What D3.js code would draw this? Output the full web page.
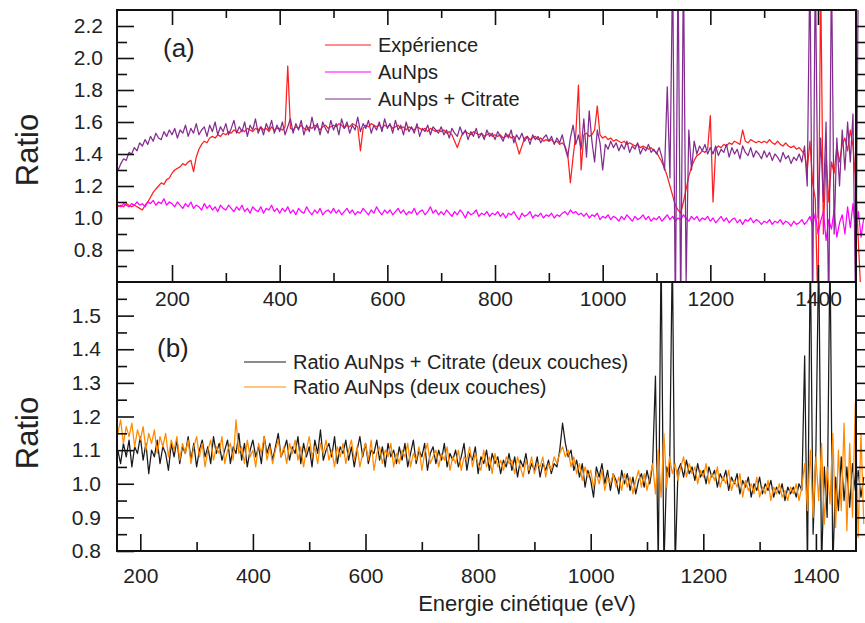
<!DOCTYPE html>
<html><head><meta charset="utf-8">
<script src="https://cdn.jsdelivr.net/npm/d3@7"></script>
<style>
body{margin:0;background:#fff}
svg text{font-family:"Liberation Sans",Arial,Helvetica,sans-serif;fill:#222}
</style>
</head><body>
<svg id="chart" width="865" height="623"></svg>
<script>
// ---------------- DATA ----------------
// Panel (a): energy grid (eV) for the three ratio curves
const energyTop = d3.range(100, 1486, 5);
const experience = [
1.07,1.08,1.07,1.09,1.08,1.07,1.08,1.07,1.06,1.05,1.08,1.10,1.13,1.16,1.18,1.20,1.22,1.21,1.24,1.25,
1.28,1.30,1.31,1.32,1.34,1.33,1.35,1.36,1.29,1.38,1.43,1.46,1.48,1.47,1.50,1.51,1.50,1.52,1.51,1.53,
1.52,1.54,1.53,1.55,1.54,1.53,1.55,1.54,1.56,1.55,1.54,1.56,1.55,1.57,1.55,1.56,1.54,1.57,1.55,1.56,
1.56,1.55,1.57,1.95,1.56,1.55,1.57,1.56,1.58,1.56,1.55,1.57,1.56,1.58,1.57,1.55,1.57,1.58,1.56,1.57,
1.58,1.57,1.59,1.58,1.56,1.58,1.57,1.59,1.58,1.57,1.42,1.56,1.58,1.57,1.59,1.58,1.57,1.58,1.56,1.58,
1.57,1.58,1.56,1.57,1.58,1.56,1.57,1.55,1.57,1.56,1.55,1.57,1.56,1.55,1.56,1.54,1.56,1.55,1.54,1.55,
1.54,1.55,1.53,1.54,1.52,1.48,1.44,1.49,1.53,1.54,1.53,1.52,1.54,1.53,1.52,1.53,1.51,1.52,1.53,1.51,
1.52,1.51,1.52,1.50,1.51,1.52,1.50,1.51,1.46,1.40,1.45,1.50,1.51,1.49,1.50,1.51,1.49,1.50,1.48,1.49,
1.48,1.49,1.47,1.48,1.46,1.47,1.45,1.40,1.22,1.38,1.52,1.83,1.30,1.52,1.53,1.51,1.52,1.55,1.70,1.52,
1.50,1.51,1.49,1.50,1.48,1.49,1.48,1.47,1.48,1.46,1.47,1.46,1.45,1.46,1.44,1.45,1.44,1.43,1.44,1.42,
1.41,1.38,1.35,1.31,1.26,1.20,1.14,1.08,1.05,1.03,1.10,1.18,1.26,1.32,1.36,1.39,1.40,1.42,1.41,1.43,
1.64,1.10,1.43,1.45,1.44,1.46,1.45,1.47,1.46,1.48,1.47,1.46,1.55,1.48,1.47,1.49,1.48,1.47,1.48,1.47,
1.48,1.47,1.49,1.47,1.46,1.48,1.46,1.45,1.47,1.45,1.44,1.45,1.43,1.44,1.42,1.40,1.30,1.48,1.22,1.12,
0.40,2.50,0.90,1.40,1.10,1.35,1.28,1.45,1.35,1.46,1.50,1.42,1.55,1.45,1.22,0.85,0.50,0.40
];
const auNps = [
1.08,1.07,1.09,1.08,1.07,1.09,1.08,1.10,1.08,1.09,1.07,1.10,1.09,1.11,1.08,1.10,1.09,1.12,1.08,1.10,
1.09,1.07,1.10,1.08,1.06,1.09,1.07,1.10,1.06,1.08,1.07,1.05,1.09,1.06,1.08,1.05,1.07,1.04,1.08,1.06,
1.05,1.08,1.06,1.04,1.07,1.05,1.08,1.04,1.06,1.03,1.07,1.05,1.04,1.07,1.03,1.06,1.05,1.08,1.04,1.06,
1.03,1.06,1.04,1.07,1.03,1.05,1.02,1.06,1.04,1.03,1.07,1.04,1.02,1.05,1.03,1.06,1.02,1.04,1.05,1.03,
1.06,1.03,1.05,1.02,1.04,1.06,1.03,1.05,1.02,1.04,1.03,1.06,1.04,1.02,1.05,1.03,1.07,1.04,1.02,1.05,
1.03,1.05,1.02,1.04,1.06,1.03,1.05,1.02,1.04,1.03,1.06,1.02,1.04,1.05,1.02,1.04,1.07,1.03,1.05,1.02,
1.04,1.02,1.05,1.03,1.01,1.04,1.02,1.05,1.03,1.00,1.04,1.02,1.03,1.05,1.01,1.03,1.02,1.04,1.01,1.03,
1.02,1.04,1.01,1.03,1.00,1.03,1.02,1.04,1.01,0.99,1.03,1.01,1.02,1.04,1.00,1.02,1.01,1.03,1.00,1.02,
1.01,1.03,1.00,1.02,1.01,1.03,1.04,1.02,1.05,1.03,1.04,1.02,1.03,1.01,1.03,1.00,1.02,1.01,1.03,0.99,
1.01,1.00,1.02,0.99,1.01,1.00,0.98,1.01,0.99,1.02,1.00,0.98,1.01,0.99,1.00,1.02,0.99,1.01,0.98,1.00,
0.99,1.01,0.98,1.00,1.02,0.99,1.01,0.98,1.00,0.99,1.02,1.00,0.98,1.01,0.99,1.01,0.98,1.00,0.99,1.01,
0.98,1.00,0.97,0.99,1.01,0.98,1.00,0.97,0.99,1.00,0.97,0.99,0.96,0.99,0.98,1.00,0.97,0.99,0.98,0.96,
0.98,0.97,0.99,0.96,0.98,0.97,0.99,0.96,0.98,0.97,0.95,0.98,0.96,0.97,0.99,0.96,0.98,1.01,0.95,1.03,
0.90,0.98,1.04,0.86,0.99,0.93,1.05,0.88,0.97,1.02,0.90,1.07,0.94,1.09,0.92,1.04,0.88,1.00
];
const auNpsCitrate = [
1.30,1.34,1.37,1.36,1.41,1.40,1.44,1.42,1.47,1.45,1.49,1.46,1.51,1.48,1.53,1.50,1.49,1.54,1.51,1.55,
1.52,1.56,1.50,1.55,1.53,1.58,1.51,1.56,1.53,1.59,1.52,1.55,1.57,1.51,1.58,1.54,1.60,1.52,1.57,1.54,
1.59,1.52,1.56,1.61,1.53,1.57,1.54,1.60,1.51,1.58,1.55,1.62,1.53,1.57,1.52,1.59,1.55,1.61,1.53,1.58,
1.54,1.60,1.52,1.57,1.62,1.53,1.59,1.55,1.61,1.52,1.58,1.54,1.63,1.55,1.59,1.52,1.60,1.56,1.53,1.61,
1.55,1.59,1.52,1.62,1.56,1.60,1.53,1.58,1.55,1.63,1.54,1.59,1.56,1.61,1.53,1.58,1.55,1.60,1.54,1.62,
1.56,1.59,1.53,1.61,1.55,1.58,1.52,1.60,1.54,1.57,1.53,1.59,1.51,1.56,1.54,1.58,1.52,1.57,1.55,1.53,
1.57,1.52,1.55,1.50,1.56,1.53,1.51,1.57,1.52,1.55,1.49,1.54,1.51,1.56,1.50,1.53,1.49,1.55,1.51,1.53,
1.49,1.54,1.51,1.48,1.53,1.50,1.55,1.47,1.52,1.49,1.53,1.48,1.51,1.46,1.52,1.49,1.51,1.47,1.50,1.52,
1.48,1.51,1.46,1.50,1.47,1.52,1.44,1.38,1.50,1.58,1.46,1.52,1.43,1.62,1.38,1.67,1.48,1.35,1.55,1.47,
1.30,1.46,1.43,1.48,1.44,1.47,1.42,1.46,1.43,1.48,1.41,1.45,1.43,1.47,1.40,1.44,1.42,1.46,1.41,1.43,
1.40,1.44,1.38,1.30,1.82,1.25,2.60,0.40,2.60,0.40,2.60,0.60,1.55,1.30,1.48,1.40,1.45,1.42,1.46,1.40,
1.44,1.40,1.45,1.39,1.43,1.41,1.46,1.38,1.44,1.40,1.43,1.37,1.45,1.41,1.39,1.44,1.38,1.42,1.40,1.37,
1.42,1.38,1.41,1.36,1.40,1.38,1.35,1.41,1.37,1.39,1.34,1.38,1.36,1.40,1.35,1.45,1.20,2.60,0.40,2.60,
1.00,1.50,1.10,1.60,0.40,2.60,0.90,1.50,1.20,1.55,1.30,1.60,1.35,1.65,0.40,2.60,2.60,2.60
];
// Panel (b): energy grid (eV) for the two-layer ratios
const energyBot = d3.range(160, 1486, 5);
const ratioCitrate2 = [
1.10,1.06,1.12,1.08,1.13,1.05,1.11,1.09,1.14,1.07,1.12,1.03,1.10,1.08,1.13,1.06,1.11,1.09,1.04,1.12,
1.08,1.13,1.06,1.11,1.09,1.14,1.07,1.12,1.05,1.10,1.13,1.08,1.11,1.06,1.14,1.09,1.12,1.07,1.10,1.13,
1.06,1.11,1.09,1.15,1.07,1.12,1.05,1.10,1.13,1.08,1.11,1.06,1.14,1.09,1.12,1.07,1.11,1.15,1.08,1.10,
1.13,1.07,1.11,1.09,1.14,1.06,1.12,1.08,1.11,1.05,1.13,1.09,1.16,1.07,1.10,1.12,1.08,1.14,1.06,1.11,
1.09,1.13,1.07,1.11,1.05,1.10,1.14,1.08,1.12,1.06,1.10,1.09,1.13,1.07,1.11,1.05,1.12,1.08,1.10,1.06,
1.11,1.07,1.12,1.05,1.09,1.13,1.06,1.10,1.08,1.12,1.04,1.09,1.11,1.06,1.10,1.07,1.12,1.05,1.09,1.07,
1.10,1.05,1.08,1.12,1.04,1.09,1.07,1.11,1.03,1.08,1.06,1.10,1.04,1.09,1.06,1.08,1.03,1.07,1.05,1.09,
1.04,1.08,1.02,1.07,1.05,1.09,1.03,1.06,1.04,1.08,1.02,1.06,1.04,1.07,1.03,1.06,1.05,1.10,1.18,1.12,
1.08,1.10,1.04,1.07,1.02,1.06,0.99,1.04,1.01,0.96,1.05,1.02,1.06,1.00,1.04,0.98,1.03,1.01,0.97,1.04,
1.00,1.03,0.98,1.02,0.97,1.01,1.03,0.99,1.04,1.00,1.06,1.32,0.75,1.70,0.75,1.05,1.02,1.70,0.75,1.04,
1.06,1.02,1.07,1.03,1.05,1.01,1.06,1.02,1.04,1.00,1.05,1.02,1.04,0.99,1.03,1.01,1.04,0.98,1.02,1.00,
1.03,0.97,1.01,0.99,1.02,0.96,1.00,0.98,1.02,0.97,1.00,0.98,1.01,0.96,0.99,0.97,1.00,0.95,0.99,0.97,
0.99,0.96,1.00,0.98,1.38,0.75,1.70,0.85,1.10,1.70,0.75,1.05,0.90,1.70,0.75,1.02,0.92,1.08,0.95,1.05,
0.93,1.06,0.98,1.04,0.96,1.02
];
const ratioAuNps2 = [
1.15,1.19,1.12,1.17,1.14,1.18,1.11,1.16,1.13,1.17,1.10,1.15,1.12,1.16,1.09,1.14,1.11,1.15,1.08,1.13,
1.10,1.14,1.07,1.12,1.09,1.13,1.06,1.11,1.14,1.08,1.12,1.05,1.10,1.13,1.07,1.11,1.09,1.14,1.06,1.10,
1.12,1.07,1.19,1.09,1.11,1.06,1.13,1.08,1.10,1.05,1.12,1.09,1.14,1.07,1.11,1.06,1.10,1.13,1.08,1.11,
1.06,1.12,1.09,1.13,1.07,1.11,1.05,1.10,1.14,1.08,1.11,1.06,1.12,1.09,1.13,1.07,1.10,1.05,1.11,1.08,
1.12,1.06,1.10,1.13,1.07,1.11,1.05,1.09,1.12,1.07,1.13,1.04,1.09,1.11,1.06,1.10,1.08,1.12,1.05,1.09,
1.06,1.10,1.08,1.12,1.05,1.09,1.07,1.11,1.04,1.09,1.12,1.06,1.08,1.10,1.05,1.09,1.07,1.11,1.04,1.08,
1.06,1.10,1.04,1.08,1.07,1.11,1.05,1.09,1.06,1.04,1.10,1.05,1.08,1.03,1.09,1.05,1.07,1.04,1.08,1.06,
1.07,1.03,1.08,1.05,1.02,1.07,1.04,1.08,1.03,1.06,1.05,1.08,1.02,1.06,1.04,1.08,1.06,1.09,1.11,1.08,
1.10,1.05,1.08,1.03,1.06,1.01,1.05,1.02,1.04,0.99,1.03,1.00,1.04,0.98,1.02,1.00,1.03,0.99,1.02,0.98,
1.03,0.99,1.02,0.97,1.01,1.04,0.99,1.03,0.98,1.02,1.06,0.97,1.10,0.96,1.15,0.99,1.08,1.03,1.06,1.01,
1.05,1.08,1.02,1.06,1.03,1.05,1.00,1.04,1.02,1.06,1.00,1.03,1.01,1.05,0.99,1.02,1.00,1.04,0.98,1.01,
0.99,1.03,0.96,1.01,0.98,1.00,0.97,1.02,0.96,0.99,0.97,1.01,0.95,0.99,0.97,1.00,0.96,0.98,0.95,0.99,
0.97,1.00,0.95,0.99,1.06,0.92,1.10,0.90,1.08,0.95,1.12,0.88,1.05,0.94,1.15,0.87,1.10,0.92,1.18,0.86,
1.12,0.90,1.24,0.84,1.15,0.88
];
const topXMajor = [200,400,600,800,1000,1200,1400];
const topXMinor = [300,500,700,900,1100,1300];
const topYMajor = [0.8,1.0,1.2,1.4,1.6,1.8,2.0,2.2];
const topYMinor = [0.7,0.9,1.1,1.3,1.5,1.7,1.9,2.1];
const botXMajor = [200,400,600,800,1000,1200,1400];
const botXMinor = [300,500,700,900,1100,1300];
const botYMajor = [0.8,0.9,1.0,1.1,1.2,1.3,1.4,1.5];
const botYMinor = [0.85,0.95,1.05,1.15,1.25,1.35,1.45,1.55];
const legendTop = ["Expérience","AuNps","AuNps + Citrate"];
const legendBot = ["Ratio AuNps + Citrate (deux couches)","Ratio AuNps (deux couches)"];

// ---------------- DRAWING ----------------
const svg = d3.select("#chart");
const L=117, R=856, T=10, M=282, B=551;
const xTop = d3.scaleLinear().domain([97.8,1470.6]).range([L,R]);
const yTop = d3.scaleLinear().domain([0.6,2.3]).range([M,T]);
const xBot = d3.scaleLinear().domain([158.6,1471.2]).range([L,R]);
const yBot = d3.scaleLinear().domain([0.8,1.6]).range([B,M]);

const defs = svg.append("defs");
defs.append("clipPath").attr("id","clipTop").append("rect").attr("x",L).attr("y",T).attr("width",865-L).attr("height",M-T);
defs.append("clipPath").attr("id","clipBot").append("rect").attr("x",L).attr("y",M).attr("width",865-L).attr("height",B-M);

const colors = {exp:"#ff1f1f", au:"#ff00ff", cit:"#832c90", blk:"#1a1a1a", org:"#ff8a00"};

function drawSeries(g, xs, ys, energies, vals, color){
  const line = d3.line().x((d,i)=>xs(energies[i])).y(d=>ys(d));
  g.append("path").datum(vals.slice(0, energies.length))
    .attr("d", line).attr("fill","none").attr("stroke",color)
    .attr("stroke-width",1.25).attr("stroke-linejoin","round");
}
const gTop = svg.append("g").attr("clip-path","url(#clipTop)");
drawSeries(gTop, xTop, yTop, energyTop, experience, colors.exp);
drawSeries(gTop, xTop, yTop, energyTop, auNps, colors.au);
drawSeries(gTop, xTop, yTop, energyTop, auNpsCitrate, colors.cit);
const gBot = svg.append("g").attr("clip-path","url(#clipBot)");
drawSeries(gBot, xBot, yBot, energyBot, ratioCitrate2, colors.blk);
drawSeries(gBot, xBot, yBot, energyBot, ratioAuNps2, colors.org);

// frame
svg.append("rect").attr("x",L).attr("y",T).attr("width",R-L).attr("height",B-T)
  .attr("fill","none").attr("stroke","#111").attr("stroke-width",2);
svg.append("line").attr("x1",L).attr("x2",R).attr("y1",M).attr("y2",M)
  .attr("stroke","#111").attr("stroke-width",2);

function axisG(tx, ty, axis, fs){
  const g = svg.append("g").attr("transform",`translate(${tx},${ty})`).call(axis);
  g.attr("font-family",null).attr("font-size",null);
  g.select(".domain").remove();
  g.selectAll(".tick line").attr("stroke","#111").attr("stroke-width",1.6);
  g.selectAll(".tick text").attr("fill","#222").style("font-size",(fs||21)+"px");
  return g;
}
const f1 = d3.format(".1f");
// panel (a) y axes
axisG(L,0,d3.axisLeft(yTop).tickValues(topYMajor).tickSize(-17).tickPadding(14).tickFormat(f1));
axisG(L,0,d3.axisLeft(yTop).tickValues(topYMinor).tickSize(-10).tickFormat(""));
axisG(R,0,d3.axisRight(yTop).tickValues(topYMajor.concat(topYMinor)).tickSize(10).tickFormat(""));
// panel (a) x axes: top edge, and bottom edge with labels below
axisG(0,T,d3.axisTop(xTop).tickValues(topXMajor).tickSize(-15).tickFormat(""));
axisG(0,T,d3.axisTop(xTop).tickValues(topXMinor).tickSize(-8).tickFormat(""));
axisG(0,M,d3.axisBottom(xTop).tickValues(topXMajor).tickSize(-17).tickPadding(9).tickFormat(d3.format("d")));
axisG(0,M,d3.axisBottom(xTop).tickValues(topXMinor).tickSize(-9).tickFormat(""));
// panel (b) axes
axisG(L,0,d3.axisLeft(yBot).tickValues(botYMajor).tickSize(-17).tickPadding(16).tickFormat(f1));
axisG(L,0,d3.axisLeft(yBot).tickValues(botYMinor).tickSize(-10).tickFormat(""));
axisG(R,0,d3.axisRight(yBot).tickValues(botYMajor.slice(1).concat(botYMinor)).tickSize(10).tickFormat(""));
axisG(0,B,d3.axisBottom(xBot).tickValues(botXMajor).tickSize(-17).tickPadding(17).tickFormat(d3.format("d")));
axisG(0,B,d3.axisBottom(xBot).tickValues(botXMinor).tickSize(-9).tickFormat(""));

// axis titles
svg.append("text").attr("transform","translate(38,150) rotate(-90)").attr("text-anchor","middle")
  .style("font-size","31px").text("Ratio");
svg.append("text").attr("transform","translate(38,433) rotate(-90)").attr("text-anchor","middle")
  .style("font-size","31px").text("Ratio");
svg.append("text").attr("x",527).attr("y",611).attr("text-anchor","middle")
  .style("font-size","22px").text("Energie cinétique (eV)");
// panel tags
svg.append("text").attr("x",163).attr("y",57).style("font-size","26px").text("(a)");
svg.append("text").attr("x",157).attr("y",357).style("font-size","26px").text("(b)");

// legends
const lt = [colors.exp, colors.au, colors.cit];
legendTop.forEach((name,i)=>{
  const y = 45 + i*27;
  svg.append("line").attr("x1",325).attr("x2",371).attr("y1",y).attr("y2",y).attr("stroke",lt[i]).attr("stroke-width",1.2);
  svg.append("text").attr("x",378).attr("y",y+7).style("font-size","20px").text(name);
});
const lb = [colors.blk, colors.org];
legendBot.forEach((name,i)=>{
  const y = 362 + i*25;
  svg.append("line").attr("x1",244).attr("x2",286).attr("y1",y).attr("y2",y).attr("stroke",lb[i]).attr("stroke-width",1.2);
  svg.append("text").attr("x",293).attr("y",y+7).style("font-size","20px").text(name);
});
</script>
</body></html>
